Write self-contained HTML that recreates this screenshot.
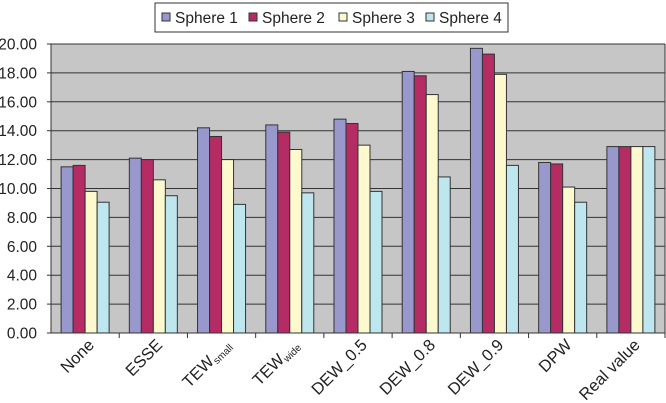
<!DOCTYPE html>
<html><head><meta charset="utf-8"><style>
html,body{margin:0;padding:0;background:#fff;}
svg{display:block;font-family:"Liberation Sans",Arial,sans-serif;}
</style></head><body>
<svg id="chart" width="666" height="403" viewBox="0 0 666 403">
<rect x="51" y="44" width="614" height="289" fill="#c6c6c6"/>
<g id="grid"></g><g id="bars"></g><g id="axes"></g>
<g>
<rect x="155" y="3" width="353" height="29" fill="#fff" stroke="#333" stroke-width="1"/>
<g id="legend"></g>
</g>
</svg>
<script>
const categories=["None","ESSE","TEW|small","TEW|wide","DEW_0.5","DEW_0.8","DEW_0.9","DPW","Real value"];
const seriesNames=["Sphere 1","Sphere 2","Sphere 3","Sphere 4"];
const sphere1=[11.5,12.1,14.2,14.4,14.8,18.1,19.7,11.8,12.9];
const sphere2=[11.6,12.0,13.6,13.9,14.5,17.8,19.3,11.7,12.9];
const sphere3=[9.8,10.6,12.0,12.7,13.0,16.5,17.9,10.1,12.9];
const sphere4=[9.05,9.5,8.9,9.7,9.8,10.8,11.6,9.05,12.9];
const yTicks=[0,2,4,6,8,10,12,14,16,18,20];
const series=[sphere1,sphere2,sphere3,sphere4];
const colors=["#9898cc","#b52b64","#fbf9cd","#bde6ee"];
const NS="http://www.w3.org/2000/svg";
const X0=51,X1=665,Y0=333,Y1=44,YMAX=20;
const catW=(X1-X0)/categories.length,barW=12,off=(catW-4*barW)/2;
function y(v){return Y0-(v/YMAX)*(Y0-Y1);}
function xc(i){return X0+i*catW;}
function mk(t,a,p){const e=document.createElementNS(NS,t);for(const k in a)e.setAttribute(k,a[k]);p.appendChild(e);return e;}
const grid=document.getElementById('grid'),bars=document.getElementById('bars'),axes=document.getElementById('axes'),leg=document.getElementById('legend');
yTicks.forEach(v=>{
 if(v>0){const l=mk('line',{x1:X0,x2:X1,y1:y(v),y2:y(v),stroke:'#333','stroke-width':1},grid);
 
 }
 const t=mk('text',{x:37,y:y(v)+5.5,'text-anchor':'end','font-size':15.5,fill:'#222'},axes);t.textContent=v.toFixed(2);
 
 
 mk('line',{x1:X0-4,x2:X0,y1:y(v),y2:y(v),stroke:'#333'},axes);
});
series.forEach((s,si)=>{s.forEach((v,i)=>{
 const r=mk('rect',{x:xc(i)+off+si*barW,y:y(v),width:barW,height:Y0-y(v),fill:colors[si],stroke:'#333','stroke-width':1},bars);
 
 
});});
mk('line',{x1:X0,x2:X0,y1:Y1,y2:Y0,stroke:'#333'},axes);
mk('line',{x1:X0,x2:X1,y1:Y0,y2:Y0,stroke:'#333'},axes);
mk('line',{x1:X1,x2:X1,y1:Y1,y2:Y0,stroke:'#333'},axes);
mk('line',{x1:X0,x2:X1,y1:Y1,y2:Y1,stroke:'#333'},axes);
categories.forEach((c,i)=>{
 mk('line',{x1:xc(i+1),x2:xc(i+1),y1:Y0,y2:Y0+5,stroke:'#333'},axes);
 const cx=xc(i)+catW/2+10,cy=346;
 const t=mk('text',{x:cx,y:cy,'text-anchor':'end','font-size':16.5,fill:'#222',transform:`rotate(-45 ${cx} ${cy})`},axes);
 
 
 const parts=c.split('|');
 t.appendChild(document.createTextNode(parts[0]));
 if(parts[1]){const s=mk('tspan',{'font-size':10,dy:3},t);s.textContent=parts[1];}
});
const lx=[162,249,339,426];
seriesNames.forEach((n,i)=>{
 const r=mk('rect',{x:lx[i],y:13,width:8,height:8,fill:colors[i],stroke:'#333'},leg);
 
 
 const t=mk('text',{x:lx[i]+13,y:23,'font-size':15.5,fill:'#222'},leg);t.textContent=n;
 
 
});
</script>
</body></html>
